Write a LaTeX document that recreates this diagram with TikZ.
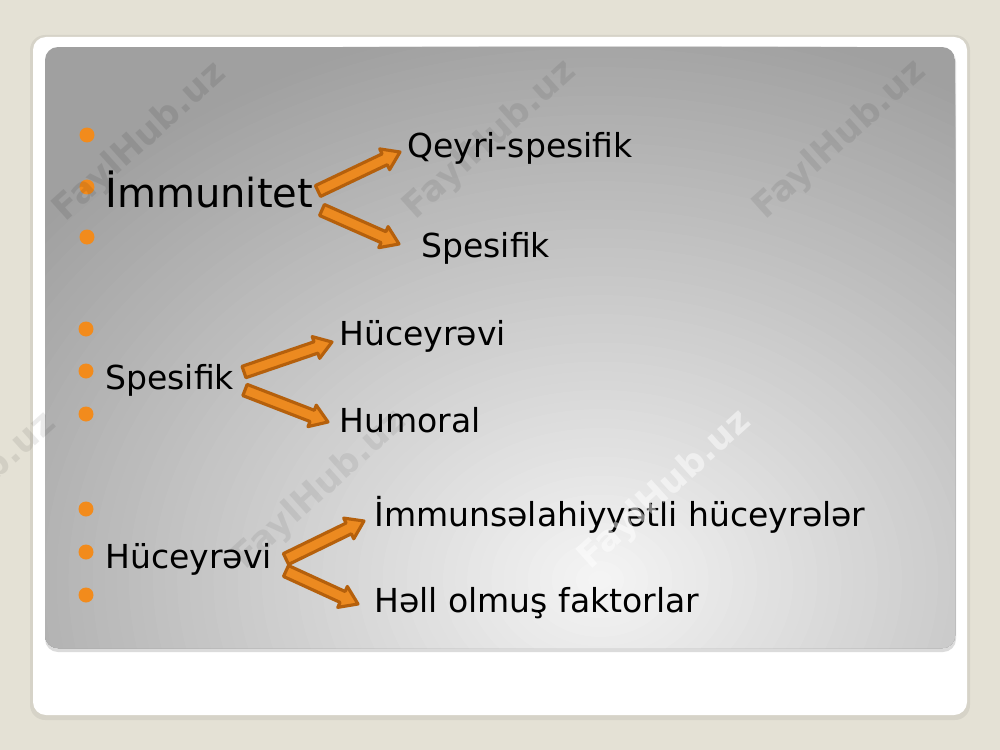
\documentclass[tikz,border=0pt]{standalone}
\usepackage{fontspec}
\setmainfont{DejaVu Sans}
\usetikzlibrary{calc}
\definecolor{bgbeige}{HTML}{E4E1D5}
\definecolor{bul}{HTML}{F28B1C}
\definecolor{arrfill}{HTML}{EC8A20}
\definecolor{arrdraw}{HTML}{B5600C}
\definecolor{g0}{HTML}{F4F4F4}
\definecolor{g3}{HTML}{A0A0A0}
\newcommand\blockarrow[2]{%
  \coordinate (ah) at ($(#2)!0.34cm!(#1)$);
  \filldraw[barrow] ($(#1)!0.12cm!90:(#2)$) -- ($(ah)!0.12cm!90:(#2)$) -- ($(ah)!0.23cm!90:(#2)$) -- (#2)
    -- ($(ah)!0.23cm!-90:(#2)$) -- ($(ah)!0.12cm!-90:(#2)$) -- ($(#1)!0.12cm!-90:(#2)$) -- cycle;}
\begin{document}
\begin{tikzpicture}[x=0.02cm,y=-0.02cm,
  bullet/.style={circle,fill=bul,minimum size=0.3cm,inner sep=0pt},
  txt/.style={anchor=base west,inner sep=0pt,font=\fontsize{18.8}{22}\selectfont},
  bigtxt/.style={anchor=base west,inner sep=0pt,font=\fontsize{22.8}{26}\selectfont},
  barrow/.style={fill=arrfill,draw=arrdraw,line width=1.8pt,line join=round},
  wm/.style={font=\bfseries\fontsize{20}{24}\selectfont,rotate=42,inner sep=0pt}]
\useasboundingbox (0,0) rectangle (1000,750);
\fill[bgbeige] (0,0) rectangle (1000,750);
% card
\fill[black,opacity=0.06,rounded corners=0.3cm] (30,35) rectangle (970,720);
\fill[white,rounded corners=0.26cm] (33,37) rectangle (967,715);
% inner panel
\fill[black,opacity=0.14,rounded corners=0.26cm] (45,49) rectangle (956,652);
\begin{scope}
  \clip[rounded corners=0.26cm] (45,47) rectangle (955,648);
  \fill[g3] (45,47) rectangle (955,648);
  \foreach \i in {0,...,59}{
    \pgfmathsetmacro\r{1-\i/60}
    \pgfmathsetmacro\p{100*\i/59}
    \fill[g0!\p!g3] (600,580) ellipse [x radius={\r*14.5cm}, y radius={\r*11.4cm}];
  }
\end{scope}
% bullets
\node[bullet] (b1) at (87,135) {};
\node[bullet] (b2) at (87,187) {};
\node[bullet] (b3) at (87,237) {};
\node[bullet] (b4) at (86,329) {};
\node[bullet] (b5) at (86,371) {};
\node[bullet] (b6) at (86,414) {};
\node[bullet] (b7) at (86,509) {};
\node[bullet] (b8) at (86,552) {};
\node[bullet] (b9) at (86,595) {};
% texts
\node[bigtxt] (imm) at (105,207) {İmmunitet};
\node[txt] (qs) at (407,157) {Qeyri-spesifik};
\node[txt] (sp1) at (421,257) {Spesifik};
\node[txt] (sp2) at (105,389) {Spesifik};
\node[txt] (hc1) at (339,345) {Hüceyrəvi};
\node[txt] (hum) at (339,432) {Humoral};
\node[txt] (hc2) at (105,568) {Hüceyrəvi};
\node[txt] (ims) at (374,526) {İmmunsəlahiyyətli hüceyrələr};
\node[txt] (hol) at (374,612) {Həll olmuş faktorlar};
% arrows
\coordinate (a1s) at (318,191);
\coordinate (a1e) at (400,152);
\coordinate (a2s) at (322,210);
\coordinate (a2e) at (399,244);
\coordinate (a3s) at (244,372);
\coordinate (a3e) at (332,342);
\coordinate (a4s) at (245,390);
\coordinate (a4e) at (328,422);
\coordinate (a5s) at (286,559);
\coordinate (a5e) at (364,521);
\coordinate (a6s) at (286,571);
\coordinate (a6e) at (358,604);
\blockarrow{a1s}{a1e}
\blockarrow{a2s}{a2e}
\blockarrow{a3s}{a3e}
\blockarrow{a4s}{a4e}
\blockarrow{a5s}{a5e}
\blockarrow{a6s}{a6e}
% watermarks
\node[wm,text=black,opacity=0.09] (w1) at (140,142) {FaylHub.uz};
\node[wm,text=black,opacity=0.08] (w2) at (490,140) {FaylHub.uz};
\node[wm,text=black,opacity=0.08] (w3) at (840,140) {FaylHub.uz};
\node[wm,text=black,opacity=0.08] (w4) at (-30,492) {FaylHub.uz};
\node[wm,text=black,opacity=0.07] (w5) at (320,490) {FaylHub.uz};
\node[wm,text=white,opacity=0.5] (w6) at (665,490) {FaylHub.uz};
\end{tikzpicture}
\end{document}
